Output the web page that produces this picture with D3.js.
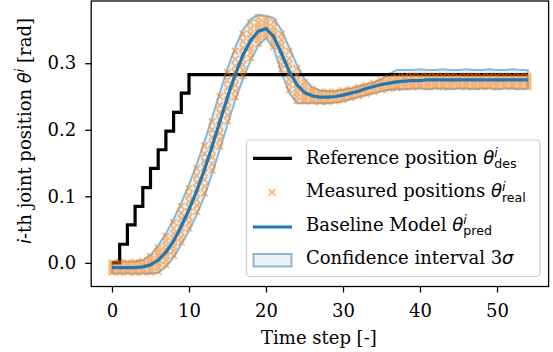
<!DOCTYPE html>
<html>
<head>
<meta charset="utf-8">
<script src="https://cdn.jsdelivr.net/npm/d3@7"></script>
<style>
  body { margin: 0; background: #ffffff; }
  svg text { font-family: "DejaVu Serif", serif; fill: #000; }
  .math { font-family: "DejaVu Sans", sans-serif; font-style: italic; }
  .mathrm { font-family: "DejaVu Sans", sans-serif; }
</style>
</head>
<body>
<div id="chart"></div>
<script>
/* CONSTANTS AND GLOBALS */
const width = 553;
const height = 352;
const margin = { top: 1, right: 4.4, bottom: 65.5, left: 91.2 };
const fontSize = 18;
const smallSize = 12.6;

/* DATA */
const xTicks = [0, 10, 20, 30, 40, 50];
const yTicks = [0.0, 0.1, 0.2, 0.3];

// reference (step) trajectory, breakpoints only
const refTime  = [0, 1, 2, 3, 4, 5, 6, 7, 8, 9, 10, 54];
const refValue = [0, 0.028, 0.057, 0.085, 0.113, 0.142, 0.170, 0.198, 0.226, 0.255, 0.283, 0.283];

const timeSteps = [
  0, 1, 2, 3, 4, 5, 6, 7, 8, 9, 10, 11, 12, 13, 14, 15, 16, 17, 18, 19,
  20, 21, 22, 23, 24, 25, 26, 27, 28, 29, 30, 31, 32, 33, 34, 35, 36, 37, 38, 39,
  40, 41, 42, 43, 44, 45, 46, 47, 48, 49, 50, 51, 52, 53, 54
];

const predValue = [
  -0.007, -0.007, -0.007, -0.007, -0.006, -0.003, 0.004, 0.016, 0.033, 0.055,
  0.080, 0.108, 0.140, 0.175, 0.212, 0.249, 0.283, 0.312, 0.334, 0.348,
  0.352, 0.340, 0.315, 0.288, 0.268, 0.256, 0.251, 0.249, 0.249, 0.250,
  0.252, 0.255, 0.258, 0.262, 0.265, 0.268, 0.270, 0.272, 0.273, 0.274,
  0.274, 0.275, 0.275, 0.275, 0.275, 0.275, 0.275, 0.275, 0.275, 0.275,
  0.275, 0.275, 0.275, 0.275, 0.275
];

const ciLow = [
  -0.016, -0.016, -0.016, -0.016, -0.016, -0.016, -0.015, -0.006, 0.008, 0.028,
  0.048, 0.072, 0.100, 0.134, 0.170, 0.208, 0.244, 0.276, 0.304, 0.326,
  0.338, 0.322, 0.286, 0.256, 0.240, 0.240, 0.240, 0.240, 0.240, 0.241,
  0.243, 0.246, 0.249, 0.252, 0.255, 0.258, 0.260, 0.261, 0.261, 0.262,
  0.262, 0.261, 0.262, 0.262, 0.261, 0.262, 0.262, 0.261, 0.262, 0.262,
  0.261, 0.262, 0.262, 0.261, 0.262
];

const ciHigh = [
  0.002, 0.002, 0.002, 0.002, 0.004, 0.012, 0.026, 0.044, 0.066, 0.090,
  0.118, 0.148, 0.182, 0.218, 0.256, 0.292, 0.324, 0.350, 0.366, 0.373,
  0.371, 0.368, 0.350, 0.324, 0.298, 0.276, 0.264, 0.259, 0.258, 0.258,
  0.260, 0.262, 0.265, 0.268, 0.271, 0.276, 0.284, 0.290, 0.290, 0.290,
  0.291, 0.290, 0.290, 0.291, 0.290, 0.290, 0.291, 0.290, 0.290, 0.291,
  0.290, 0.290, 0.291, 0.290, 0.290
];

// measured positions, one row of trials per time step
const measured = [
  [-0.014, -0.012, -0.010, -0.008, -0.006, -0.004, -0.002, 0.000],
  [-0.015, -0.012, -0.009, -0.007, -0.005, -0.003, -0.001, 0.001],
  [-0.014, -0.011, -0.009, -0.007, -0.006, -0.004, -0.001, 0.000],
  [-0.015, -0.013, -0.010, -0.008, -0.005, -0.003, -0.002, 0.001],
  [-0.014, -0.012, -0.009, -0.006, -0.004, -0.001, 0.001, 0.003],
  [-0.014, -0.010, -0.006, -0.003, 0.000, 0.003, 0.006, 0.010],
  [-0.013, -0.007, -0.001, 0.004, 0.009, 0.013, 0.018, 0.023],
  [-0.003, 0.004, 0.010, 0.015, 0.020, 0.026, 0.033, 0.040],
  [0.011, 0.018, 0.025, 0.031, 0.037, 0.044, 0.052, 0.061],
  [0.031, 0.038, 0.046, 0.053, 0.059, 0.066, 0.075, 0.085],
  [0.052, 0.060, 0.069, 0.077, 0.084, 0.092, 0.101, 0.112],
  [0.077, 0.086, 0.095, 0.104, 0.112, 0.121, 0.131, 0.142],
  [0.105, 0.115, 0.125, 0.135, 0.144, 0.153, 0.164, 0.176],
  [0.139, 0.149, 0.159, 0.169, 0.179, 0.189, 0.200, 0.212],
  [0.175, 0.185, 0.195, 0.205, 0.215, 0.226, 0.237, 0.250],
  [0.213, 0.222, 0.232, 0.242, 0.252, 0.263, 0.274, 0.286],
  [0.249, 0.258, 0.267, 0.277, 0.286, 0.296, 0.306, 0.318],
  [0.281, 0.290, 0.298, 0.306, 0.314, 0.323, 0.333, 0.344],
  [0.308, 0.316, 0.323, 0.330, 0.337, 0.344, 0.352, 0.361],
  [0.329, 0.335, 0.340, 0.345, 0.350, 0.355, 0.361, 0.368],
  [0.341, 0.345, 0.349, 0.352, 0.355, 0.358, 0.362, 0.367],
  [0.325, 0.330, 0.335, 0.339, 0.343, 0.348, 0.354, 0.362],
  [0.291, 0.298, 0.306, 0.313, 0.320, 0.327, 0.335, 0.344],
  [0.260, 0.268, 0.276, 0.284, 0.291, 0.299, 0.307, 0.318],
  [0.244, 0.250, 0.256, 0.262, 0.268, 0.275, 0.282, 0.292],
  [0.243, 0.246, 0.249, 0.252, 0.256, 0.260, 0.265, 0.271],
  [0.243, 0.245, 0.247, 0.250, 0.252, 0.255, 0.258, 0.261],
  [0.242, 0.244, 0.246, 0.248, 0.250, 0.252, 0.254, 0.257],
  [0.242, 0.244, 0.246, 0.248, 0.250, 0.252, 0.255, 0.257],
  [0.243, 0.245, 0.247, 0.249, 0.251, 0.253, 0.255, 0.257],
  [0.245, 0.247, 0.249, 0.251, 0.253, 0.255, 0.257, 0.259],
  [0.248, 0.250, 0.252, 0.254, 0.256, 0.258, 0.260, 0.261],
  [0.251, 0.253, 0.255, 0.257, 0.259, 0.261, 0.263, 0.264],
  [0.254, 0.256, 0.258, 0.260, 0.262, 0.264, 0.266, 0.267],
  [0.257, 0.259, 0.261, 0.263, 0.265, 0.267, 0.269, 0.270],
  [0.260, 0.262, 0.264, 0.266, 0.268, 0.270, 0.272, 0.274],
  [0.262, 0.264, 0.266, 0.268, 0.270, 0.272, 0.275, 0.277],
  [0.263, 0.265, 0.267, 0.270, 0.272, 0.274, 0.277, 0.279],
  [0.264, 0.266, 0.268, 0.271, 0.273, 0.275, 0.278, 0.280],
  [0.264, 0.266, 0.269, 0.271, 0.273, 0.276, 0.278, 0.281],
  [0.265, 0.267, 0.269, 0.271, 0.274, 0.276, 0.278, 0.280],
  [0.264, 0.267, 0.269, 0.272, 0.274, 0.276, 0.279, 0.281],
  [0.265, 0.267, 0.270, 0.272, 0.274, 0.276, 0.278, 0.281],
  [0.264, 0.266, 0.269, 0.271, 0.274, 0.276, 0.279, 0.281],
  [0.265, 0.267, 0.269, 0.272, 0.274, 0.277, 0.279, 0.281],
  [0.265, 0.267, 0.270, 0.272, 0.274, 0.276, 0.278, 0.280],
  [0.264, 0.266, 0.269, 0.271, 0.274, 0.276, 0.279, 0.281],
  [0.265, 0.267, 0.270, 0.272, 0.275, 0.277, 0.279, 0.281],
  [0.264, 0.267, 0.269, 0.271, 0.274, 0.276, 0.278, 0.280],
  [0.265, 0.267, 0.269, 0.272, 0.274, 0.277, 0.279, 0.281],
  [0.264, 0.266, 0.269, 0.271, 0.273, 0.276, 0.278, 0.281],
  [0.265, 0.267, 0.270, 0.272, 0.274, 0.276, 0.279, 0.281],
  [0.264, 0.267, 0.269, 0.271, 0.274, 0.276, 0.278, 0.280],
  [0.265, 0.267, 0.269, 0.272, 0.274, 0.277, 0.279, 0.281],
  [0.264, 0.266, 0.269, 0.271, 0.274, 0.276, 0.278, 0.281]
];

const blue = "#1f77b4";
const orange = "#ff7f0e";

/* SVG */
const svg = d3.select("#chart")
  .append("svg")
  .attr("width", width)
  .attr("height", height)
  .style("background-color", "#ffffff");

/* SCALES */
const xScale = d3.scaleLinear()
  .domain([-2.7, 56.7])
  .range([margin.left, width - margin.right]);

const yScale = d3.scaleLinear()
  .domain([-0.0355, 0.3935])
  .range([height - margin.bottom, margin.top]);

/* CONFIDENCE BAND */
const band = d3.area()
  .x((d, i) => xScale(timeSteps[i]))
  .y0((d, i) => yScale(ciLow[i]))
  .y1((d, i) => yScale(ciHigh[i]));

svg.append("path")
  .datum(timeSteps)
  .attr("d", band)
  .attr("fill", blue)
  .attr("fill-opacity", 0.1)
  .attr("stroke", blue)
  .attr("stroke-opacity", 0.5)
  .attr("stroke-width", 2);

/* REFERENCE STEP */
const refLine = d3.line()
  .x((d, i) => xScale(refTime[i]))
  .y(d => yScale(d))
  .curve(d3.curveStepAfter);

svg.append("path")
  .datum(refValue)
  .attr("d", refLine)
  .attr("fill", "none")
  .attr("stroke", "#000")
  .attr("stroke-width", 3.2);

/* MEASURED POINTS */
const mk = 3.3;
let markerPath = "";
measured.forEach((row, i) => {
  const cx = xScale(timeSteps[i]);
  row.forEach(v => {
    const cy = yScale(v);
    markerPath += `M${cx - mk},${cy - mk}L${cx + mk},${cy + mk}M${cx - mk},${cy + mk}L${cx + mk},${cy - mk}`;
  });
});
svg.append("path")
  .attr("d", markerPath)
  .attr("fill", "none")
  .attr("stroke", orange)
  .attr("stroke-opacity", 0.55)
  .attr("stroke-width", 1.8);

/* PREDICTION */
const predLine = d3.line()
  .x((d, i) => xScale(timeSteps[i]))
  .y(d => yScale(d));

svg.append("path")
  .datum(predValue)
  .attr("d", predLine)
  .attr("fill", "none")
  .attr("stroke", blue)
  .attr("stroke-width", 3.2)
  .attr("stroke-linejoin", "round");

/* AXES */
const xAxis = svg.append("g")
  .attr("transform", `translate(0,${height - margin.bottom})`)
  .call(d3.axisBottom(xScale).tickValues(xTicks).tickSizeOuter(0).tickSize(6).tickPadding(12));

const yAxis = svg.append("g")
  .attr("transform", `translate(${margin.left},0)`)
  .call(d3.axisLeft(yScale).tickValues(yTicks).tickFormat(d3.format(".1f")).tickSizeOuter(0).tickSize(6).tickPadding(9));

[xAxis, yAxis].forEach(ax => {
  ax.select(".domain").remove();
  ax.selectAll("line").attr("stroke", "#000").attr("stroke-width", 1.3);
  ax.selectAll("text").style("font-size", fontSize + "px").style("font-family", "DejaVu Serif");
});

// spines
svg.append("rect")
  .attr("x", margin.left)
  .attr("y", margin.top)
  .attr("width", width - margin.left - margin.right)
  .attr("height", height - margin.top - margin.bottom)
  .attr("fill", "none")
  .attr("stroke", "#000")
  .attr("stroke-width", 1.3);

/* AXIS LABELS */
svg.append("text")
  .attr("x", (margin.left + width - margin.right) / 2 - 1)
  .attr("y", 344)
  .attr("text-anchor", "middle")
  .style("font-size", fontSize + "px")
  .text("Time step [-]");

const yLab = svg.append("text")
  .attr("transform", "translate(31,131) rotate(-90)")
  .attr("text-anchor", "middle")
  .style("font-size", fontSize + "px");
yLab.append("tspan").attr("class", "math").text("i");
yLab.append("tspan").text("-th joint position ");
yLab.append("tspan").attr("class", "math").text("θ");
yLab.append("tspan").attr("class", "math").attr("dy", -7).style("font-size", smallSize + "px").text("i");
yLab.append("tspan").attr("dy", 7).text(" [rad]");

/* LEGEND */
const legend = svg.append("g");
legend.append("rect")
  .attr("x", 246.5)
  .attr("y", 140)
  .attr("width", 293.5)
  .attr("height", 136.5)
  .attr("rx", 4)
  .attr("fill", "#fff")
  .attr("fill-opacity", 0.8)
  .attr("stroke", "#cccccc")
  .attr("stroke-width", 1.2);

const rows = [
  { label: "Reference position ", sub: "des", y: 163.5 },
  { label: "Measured positions ", sub: "real", y: 197 },
  { label: "Baseline Model ", sub: "pred", y: 230.5 },
  { label: "Confidence interval 3", sub: null, y: 264 }
];

rows.forEach(r => {
  const t = legend.append("text")
    .attr("x", 306)
    .attr("y", r.y)
    .style("font-size", fontSize + "px");
  t.append("tspan").text(r.label);
  if (r.sub) {
    t.append("tspan").attr("class", "math").text("θ");
    t.append("tspan").attr("class", "math").attr("dy", -6.5).style("font-size", smallSize + "px").text("i");
    t.append("tspan").attr("class", "mathrm").attr("dx", -3.5).attr("dy", 11).style("font-size", smallSize + "px").text(r.sub);
  } else {
    t.append("tspan").attr("class", "math").text("σ");
  }
});

legend.append("line")
  .attr("x1", 253).attr("x2", 292).attr("y1", 158.3).attr("y2", 158.3)
  .attr("stroke", "#000").attr("stroke-width", 3.2);
legend.append("path")
  .attr("d", `M${272 - mk},${192.5 - mk}L${272 + mk},${192.5 + mk}M${272 - mk},${192.5 + mk}L${272 + mk},${192.5 - mk}`)
  .attr("stroke", orange).attr("stroke-opacity", 0.55).attr("stroke-width", 1.8);
legend.append("line")
  .attr("x1", 253).attr("x2", 292).attr("y1", 227).attr("y2", 227)
  .attr("stroke", blue).attr("stroke-width", 3.2);
legend.append("rect")
  .attr("x", 253.5).attr("y", 254).attr("width", 38).attr("height", 12.5)
  .attr("fill", blue).attr("fill-opacity", 0.1)
  .attr("stroke", blue).attr("stroke-opacity", 0.5).attr("stroke-width", 2);
</script>
</body>
</html>
